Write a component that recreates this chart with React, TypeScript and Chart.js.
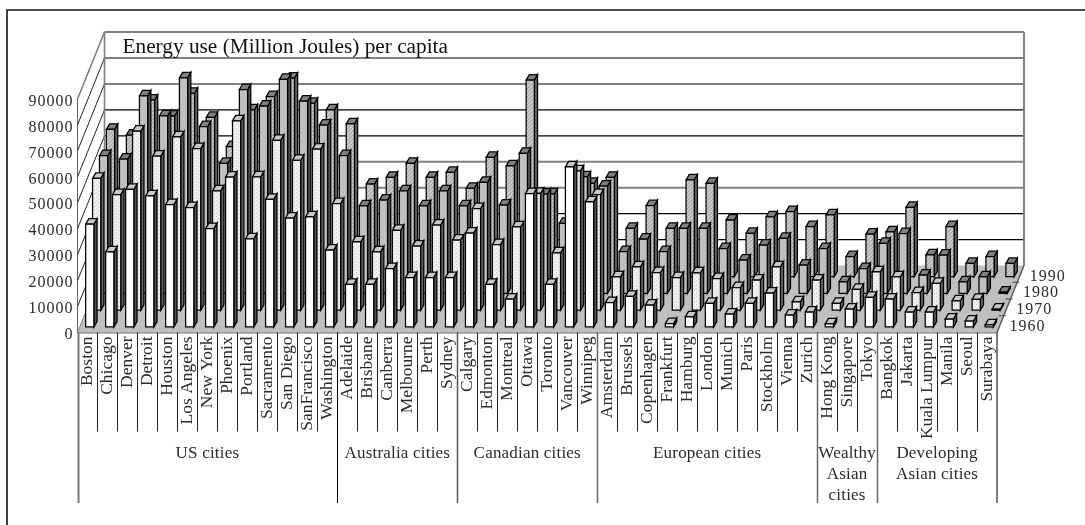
import React, { useEffect, useRef } from "react";
import { Chart, registerables, BarController } from "chart.js";

const cities = ["Boston","Chicago","Denver","Detroit","Houston","Los Angeles","New York","Phoenix","Portland","Sacramento","San Diego","SanFrancisco","Washington","Adelaide","Brisbane","Canberra","Melbourne","Perth","Sydney","Calgary","Edmonton","Montreal","Ottawa","Toronto","Vancouver","Winnipeg","Amsterdam","Brussels","Copenhagen","Frankfurt","Hamburg","London","Munich","Paris","Stockholm","Vienna","Zurich","Hong Kong","Singapore","Tokyo","Bangkok","Jakarta","Kuala Lumpur","Manila","Seoul","Surabaya"];
const years = ["1960", "1970", "1980", "1990"];
const v1960 = [39600,28900,53000,50500,47200,46000,37900,57800,34000,49200,42000,42400,29600,16400,16400,22500,19000,19000,19000,36200,16400,10700,51400,16400,61700,48200,9400,11800,8400,1300,3900,9100,5000,9100,13000,4600,5700,1200,6900,11400,10700,5700,5700,3000,2300,800];
const v1970 = [50800,44600,69000,59400,66800,62300,46000,73000,51400,65500,57800,62100,41100,26300,22500,30800,24700,32800,27000,39200,25300,32100,45000,22100,53700,44600,12900,16700,14500,12600,14400,12200,8700,11600,16700,3200,11600,2600,8000,14800,12900,6800,10300,3600,4200,400];
const v1980 = [53100,51800,76200,68500,83100,64300,50100,78600,72200,82500,74100,64900,53100,33800,36000,39500,33800,39500,33800,42800,34100,54000,38300,27000,44900,41400,16100,20900,16100,25100,25100,17300,12900,18600,21200,10900,17300,4500,9600,19300,23100,7100,14800,4500,6400,500];
const v1990 = [56800,54600,68100,61900,70700,61400,50100,64300,69400,76500,66800,64300,58900,35700,38300,43700,38300,40200,34100,46000,42700,75800,31900,32100,36000,38300,18600,27400,18600,37300,36000,21800,16700,23100,25100,19300,23800,7700,16400,17300,26700,8400,19300,5100,7700,5100];
const groups = [
  { lines: ["US cities"], count: 13, color: "#777", w: 2 },
  { lines: ["Australia cities"], count: 6, color: "#000", w: 1 },
  { lines: ["Canadian cities"], count: 7, color: "#555", w: 1.5 },
  { lines: ["European cities"], count: 11, color: "#666", w: 1.5 },
  { lines: ["Wealthy", "Asian", "cities"], count: 3, color: "#666", w: 1.5 },
  { lines: ["Developing", "Asian cities"], count: 6, color: "#666", w: 1.5 },
];
const titleText = "Energy use (Million Joules) per capita";
const gridGray = [40000, 30000, 70000, 80000, 90000];
const FONT = "Liberation Serif";
const TEXT = "#2a2a2a";
const DEPTH_X = 27;
const DEPTH_Y = 67;
const SLOT_X = 6.9;
const SLOT_Y = 16.75;
const BOX_X = 3.2;
const BOX_Y = 5.5;

function makePattern(ctx: CanvasRenderingContext2D, kind: string) {
  const c = document.createElement("canvas");
  c.width = c.height = 4;
  const p = c.getContext("2d")!;
  if (kind === "dots") {
    p.fillStyle = "#f0f0f0";
    p.fillRect(0, 0, 4, 4);
    p.fillStyle = "#c4c4c4";
    p.fillRect(0, 0, 1, 1);
    p.fillRect(2, 2, 1, 1);
  } else {
    p.fillStyle = "#c8c8c8";
    p.fillRect(0, 0, 4, 4);
    p.fillStyle = "#a0a0a0";
    for (let i = 0; i < 4; i++) p.fillRect(i, 3 - i, 1, 1);
  }
  return ctx.createPattern(c, "repeat")!;
}

class Bar3DController extends BarController {
  static id = "bar3d";
  draw() {
    const meta: any = (this as any)._cachedMeta;
    const ctx: CanvasRenderingContext2D = (this as any)._ctx;
    const ds: any = this.getDataset();
    const dx = (ds.slot + 0.33) * SLOT_X;
    const dy = (ds.slot + 0.33) * SLOT_Y;
    const front = ds.pattern ? makePattern(ctx, ds.pattern) : ds.frontColor;
    ctx.save();
    ctx.strokeStyle = "#000";
    ctx.lineWidth = 1.25;
    ctx.lineJoin = "miter";
    for (const el of meta.data) {
      const l = el.x - el.width / 2 + dx;
      const r = el.x + el.width / 2 + dx;
      const t = el.y - dy;
      const b = el.base - dy;
      const face = (pts: number[][], fill: any) => {
        ctx.beginPath();
        pts.forEach((q, i) => (i ? ctx.lineTo(q[0], q[1]) : ctx.moveTo(q[0], q[1])));
        ctx.closePath();
        ctx.fillStyle = fill;
        ctx.fill();
        ctx.stroke();
      };
      face([[r, t], [r + BOX_X, t - BOX_Y], [r + BOX_X, b - BOX_Y], [r, b]], ds.sideColor);
      face([[l, t], [l + BOX_X, t - BOX_Y], [r + BOX_X, t - BOX_Y], [r, t]], ds.topColor);
      face([[l, t], [r, t], [r, b], [l, b]], front);
    }
    ctx.restore();
  }
}

Chart.register(...registerables, Bar3DController as any);

const stage = {
  id: "stage",
  beforeDraw(chart: any) {
    const y = chart.scales.y;
    const ctx = chart.ctx;
    if (!y.__wrapped) {
      const orig = y.drawLabels;
      y.drawLabels = function (area: any) {
        ctx.save();
        ctx.letterSpacing = "1px";
        ctx.translate(0, 2.5);
        orig.call(this, area);
        ctx.restore();
      };
      y.__wrapped = true;
    }
  },
  beforeDatasetsDraw(chart: any) {
    const { ctx, scales } = chart;
    const x = scales.x;
    const y = scales.y;
    const L = x.left;
    const R = x.right;
    const y0 = y.getPixelForValue(0);
    const yTop = y.getPixelForValue(90000);
    const line = (a: number, b: number, c: number, d: number, color: string, w: number) => {
      ctx.beginPath();
      ctx.moveTo(a, b);
      ctx.lineTo(c, d);
      ctx.strokeStyle = color;
      ctx.lineWidth = w;
      ctx.stroke();
    };
    ctx.save();
    // outer frame
    ctx.beginPath();
    ctx.moveTo(7, 525);
    ctx.lineTo(7, 10);
    ctx.lineTo(1085, 10);
    ctx.strokeStyle = "#111";
    ctx.lineWidth = 1.6;
    ctx.stroke();
    // floor
    ctx.beginPath();
    ctx.moveTo(L, y0);
    ctx.lineTo(R, y0);
    ctx.lineTo(R + DEPTH_X, y0 - DEPTH_Y);
    ctx.lineTo(L + DEPTH_X, y0 - DEPTH_Y);
    ctx.closePath();
    ctx.fillStyle = "#c0c0c0";
    ctx.fill();
    // walls and grid
    for (const t of y.ticks) {
      const v = t.value;
      const py = y.getPixelForValue(v);
      if (v > 0) {
        const gray = gridGray.includes(v);
        line(L + DEPTH_X, py - DEPTH_Y, R + DEPTH_X, py - DEPTH_Y, gray ? "#808080" : "#000", gray ? 2 : 1.2);
      }
      line(L, py, L + DEPTH_X, py - DEPTH_Y, v === 90000 || v === 0 ? "#808080" : "#222", v === 90000 ? 1.6 : 1);
    }
    line(L + DEPTH_X, yTop - DEPTH_Y, L + DEPTH_X, y0 - DEPTH_Y, "#808080", 1.6);
    line(R + DEPTH_X, yTop - DEPTH_Y, R + DEPTH_X, y0 - DEPTH_Y, "#808080", 2);
    line(R, y0, R + DEPTH_X, y0 - DEPTH_Y, "#555", 1.4);
    // depth ticks and labels
    ctx.font = `16px "${FONT}"`;
    ctx.letterSpacing = "1px";
    ctx.fillStyle = TEXT;
    ctx.textAlign = "left";
    ctx.textBaseline = "middle";
    years.forEach((yr, i) => {
      const f = (i + 0.5) / years.length;
      const tx = R + DEPTH_X * f;
      const ty = y0 - DEPTH_Y * f;
      ctx.fillText(yr, tx + 9, ty + 2.5);
      if (i < years.length - 1) {
        const g = (i + 1) / years.length;
        line(R + DEPTH_X * g - 5, y0 - DEPTH_Y * g, R + DEPTH_X * g + 2, y0 - DEPTH_Y * g, "#444", 1);
      }
    });
    // category tree
    const cw = x.width / cities.length;
    const bottom = y0 + 99;
    const bottomGroup = y0 + 170.5;
    cities.forEach((_, i) => {
      const px = Math.round(x.getPixelForValue(i) - cw / 2) + 0.5;
      line(px, y0, px, bottom, "#222", 1);
    });
    let idx = 0;
    ctx.font = `17px "${FONT}"`;
    ctx.letterSpacing = "0.2px";
    ctx.textAlign = "center";
    groups.forEach((g) => {
      const a = x.getPixelForValue(idx) - cw / 2;
      const b = a + cw * g.count;
      line(Math.round(a) + 0.5, y0, Math.round(a) + 0.5, bottomGroup, g.color, g.w);
      ctx.fillStyle = TEXT;
      g.lines.forEach((ln, k) => ctx.fillText(ln, (a + b) / 2, y0 + 121 + k * 21));
      idx += g.count;
    });
    line(R, y0, R, bottomGroup, "#555", 1.5);
    // title
    ctx.letterSpacing = "0px";
    ctx.font = `21.3px "${FONT}"`;
    ctx.fillStyle = "#111";
    ctx.textAlign = "left";
    ctx.fillText(titleText, L + 45, yTop - DEPTH_Y + 15);
    ctx.restore();
  },
};

const seriesStyle = (slot: number) => ({
  slot,
  clip: false,
  grouped: false,
  barPercentage: 0.41,
  categoryPercentage: 1,
  type: "bar3d",
});

export default function App() {
  const ref = useRef<HTMLCanvasElement>(null);
  useEffect(() => {
    document.body.style.margin = "0";
    document.body.style.background = "#fff";
    const chart = new Chart(ref.current!, {
      type: "bar3d" as any,
      data: {
        labels: cities,
        datasets: [
          { label: years[0], data: v1960, ...seriesStyle(0), frontColor: "#ffffff", topColor: "#c8c8c8", sideColor: "#505050" },
          { label: years[1], data: v1970, ...seriesStyle(1), pattern: "dots", topColor: "#c8c8c8", sideColor: "#606060" },
          { label: years[2], data: v1980, ...seriesStyle(2), frontColor: "#c0c0c0", topColor: "#808080", sideColor: "#505050" },
          { label: years[3], data: v1990, ...seriesStyle(3), pattern: "hatch", topColor: "#808080", sideColor: "#606060" },
        ] as any,
      },
      options: {
        animation: false,
        responsive: false,
        layout: { padding: { left: 0, top: 99, right: 88, bottom: 0 } },
        plugins: { legend: { display: false }, tooltip: { enabled: false }, title: { display: false } },
        scales: {
          x: {
            type: "category",
            offset: true,
            grid: { display: false, drawTicks: false },
            border: { display: true, color: "#777", width: 1.5 },
            afterFit: (s: any) => { s.height = 192.5; },
            ticks: {
              autoSkip: false,
              minRotation: 90,
              maxRotation: 90,
              padding: 4,
              color: TEXT,
              font: { family: FONT, size: 17.5 },
            },
          },
          y: {
            type: "linear",
            min: 0,
            max: 90000,
            grid: { display: false, drawTicks: false },
            border: { display: true, color: "#666", width: 1 },
            afterFit: (s: any) => { s.width = 77.5; },
            ticks: {
              stepSize: 10000,
              padding: 4,
              color: TEXT,
              font: { family: FONT, size: 16 },
              callback: (v: any) => String(v),
            },
          },
        },
      } as any,
      plugins: [stage],
    });
    return () => chart.destroy();
  }, []);
  return (
    <div style={{ position: "absolute", left: 0, top: 0, width: 1085, height: 525 }}>
      <canvas ref={ref} width={1085} height={525} style={{ display: "block" }} />
    </div>
  );
}
